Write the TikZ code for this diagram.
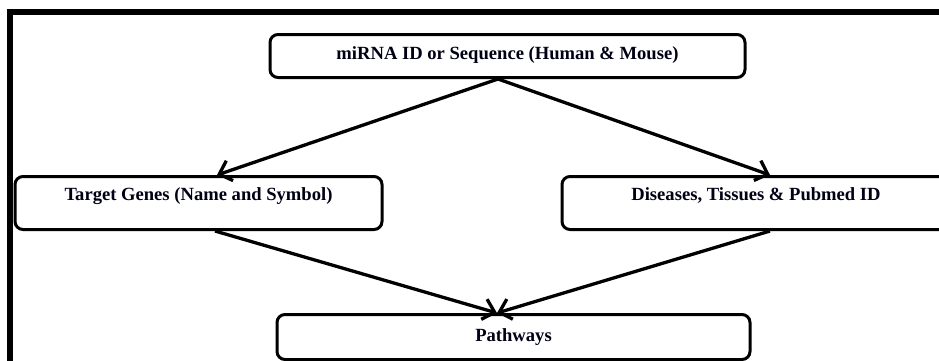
\documentclass[tikz,border=0pt]{standalone}
\usepackage{fontspec}
\setmainfont{Liberation Serif}
\usetikzlibrary{arrows.meta,calc}
\begin{document}
\begin{tikzpicture}[x=1pt,y=1pt,
  box/.style={draw=black, line width=3pt, rounded corners=8pt, inner xsep=0pt, inner ysep=0pt,
    font=\fontsize{18.6}{22}\selectfont\bfseries, text=black!92!blue},
  conn/.style={line width=3.3pt, -{Straight Barb[length=11pt,width=21pt,line width=3.3pt]}}]
\useasboundingbox (0,0) rectangle (939,-360);
\fill[white] (0,0) rectangle (939,-360);
\draw[line width=6pt] (10,-370) -- (10,-12) -- (950,-12);
\node[box, minimum width=475pt, text height=25pt, text depth=18pt] (top) at (507.5,-33) [anchor=north] {miRNA ID or Sequence (Human \& Mouse)};
\node[box, minimum width=367pt, text height=24pt, text depth=29pt] (left) at (198.5,-175) [anchor=north] {Target Genes (Name and Symbol)};
\node[box, minimum width=388pt, text height=24pt, text depth=29pt] (right) at (756,-175) [anchor=north] {Diseases, Tissues \& Pubmed ID\hspace{10pt}};
\node[box, minimum width=473pt, text height=27pt, text depth=18pt] (path) at (513.5,-313) [anchor=north] {Pathways};
\draw[conn] ($(top.south)+(-9.5,0)$) -- ($(left.north)+(18.5,0)$);
\draw[conn] ($(top.south)+(-9.5,0)$) -- ($(right.north)+(14,0)$);
\draw[conn] ($(left.south)+(16.5,0)$) -- ($(path.north)+(-16.5,0)$);
\draw[conn] ($(right.south)+(14,0)$) -- ($(path.north)+(-16.5,0)$);
\end{tikzpicture}
\end{document}
